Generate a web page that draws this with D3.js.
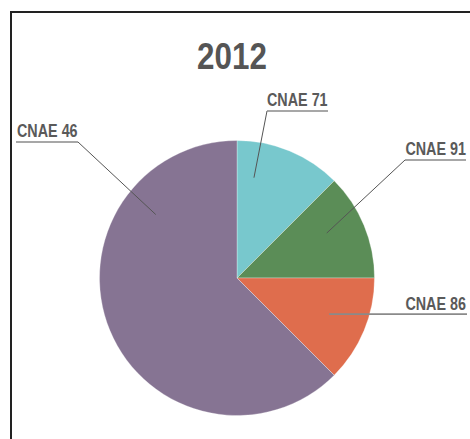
<!DOCTYPE html>
<html>
<head>
<meta charset="utf-8">
<script src="https://cdn.jsdelivr.net/npm/d3@7"></script>
<style>
  html, body { margin: 0; padding: 0; background: #fff; }
  svg { display: block; }
  text { font-family: "Liberation Sans", Arial, sans-serif; font-weight: bold; fill: #5a5a5a; }
</style>
</head>
<body>
<script>
const title = "2012";
const categories = ["CNAE 71", "CNAE 91", "CNAE 86", "CNAE 46"];
const values = [12.5, 12.5, 12.5, 62.5];
const colors = ["#78C8CD", "#5B8D57", "#DF6D4D", "#867493"];

const W = 470, H = 439;
const cx = 237, cy = 278, R = 137.5;

// label layout (angles in degrees clockwise from top for leader end; joint; text anchor)
const labelLayout = {
  "CNAE 71": { leadAngle: 9.6, leadR: 0.74, joint: [267, 111], lineEnd: 328, anchor: "start", tx: 267, ty: 106 },
  "CNAE 91": { leadAngle: 63.4, leadR: 0.73, joint: [405, 160], lineEnd: 466, anchor: "end", tx: 466, ty: 155 },
  "CNAE 86": { leadAngle: 111.4, leadR: 0.72, joint: null, lineEnd: 467, anchor: "end", tx: 466, ty: 310 },
  "CNAE 46": { leadAngle: 308, leadR: 0.75, joint: [78, 142], lineEnd: 16, anchor: "start", tx: 17, ty: 137 }
};

const svg = d3.select("body").append("svg").attr("width", W).attr("height", H);

// frame
svg.append("rect").attr("x", 11).attr("y", 12).attr("width", W + 20).attr("height", H + 20)
  .attr("fill", "none").attr("stroke", "#222").attr("stroke-width", 2);

function narrowText(x, y, anchor, size, sx, str, fill) {
  return svg.append("text")
    .attr("transform", `translate(${x},${y}) scale(${sx},1)`)
    .attr("text-anchor", anchor)
    .style("font-size", size + "px")
    .style("fill", fill || "#5a5a5a")
    .text(str);
}

narrowText(232, 69, "middle", 36.5, 0.86, title, "#555");

const data = categories.map((c, i) => ({ name: c, value: values[i], color: colors[i] }));
const pie = d3.pie().value(d => d.value).sort(null);
const arc = d3.arc().innerRadius(0).outerRadius(R);

const g = svg.append("g").attr("transform", `translate(${cx},${cy})`);
g.selectAll("path").data(pie(data)).join("path")
  .attr("d", arc).attr("fill", d => d.data.color)
  .attr("stroke", "#fff").attr("stroke-width", 0.5).attr("stroke-opacity", 0.6);

// labels
pie(data).forEach(d => {
  const L = labelLayout[d.data.name];
  const a = L.leadAngle * Math.PI / 180;
  const ex = cx + L.leadR * R * Math.sin(a), ey = cy - L.leadR * R * Math.cos(a);
  let jx, jy;
  if (L.joint) { jx = L.joint[0]; jy = L.joint[1]; } else { jx = ex; jy = ey; }
  if (L.joint) {
    svg.append("line").attr("x1", ex).attr("y1", ey).attr("x2", jx).attr("y2", jy)
      .attr("stroke", "#555").attr("stroke-width", 1);
  }
  svg.append("line").attr("x1", jx).attr("y1", jy).attr("x2", L.lineEnd).attr("y2", jy)
    .attr("stroke", "#8a8a8a").attr("stroke-width", 1.6);
  narrowText(L.tx, L.ty, L.anchor, 17.5, 0.82, d.data.name);
});
</script>
</body>
</html>
